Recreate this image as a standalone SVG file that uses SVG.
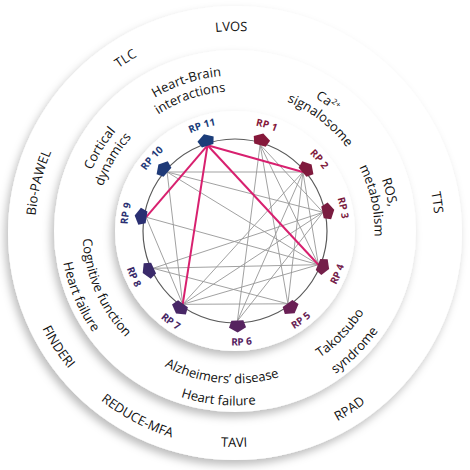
<svg xmlns="http://www.w3.org/2000/svg" width="470" height="470" viewBox="0 0 470 470">
<style>
.t{font-family:"Open Sans","DejaVu Sans",sans-serif;font-size:13px;fill:#111}
.rp{font-family:"Open Sans","DejaVu Sans",sans-serif;font-size:10px;font-weight:bold}
.g{stroke:#969696;stroke-width:0.9;fill:none}
.m{stroke:#d8206f;stroke-width:2;fill:none}
</style>
<defs>
<filter id="sh" x="-15%" y="-15%" width="130%" height="130%">
<feDropShadow dx="-3" dy="5" stdDeviation="4.5" flood-color="#000" flood-opacity="0.26"/>
</filter>
<path id="cwO" d="M235,431 A200,200 0 1 1 235,31 A200,200 0 1 1 235,431"/>
<path id="ccwO" d="M235,15 A216,216 0 1 0 235,447 A216,216 0 1 0 235,15"/>
<path id="cwM1" d="M235,386.5 A155.5,155.5 0 1 1 235,75.5 A155.5,155.5 0 1 1 235,386.5"/>
<path id="cwM2" d="M235,370.5 A139.5,139.5 0 1 1 235,91.5 A139.5,139.5 0 1 1 235,370.5"/>
<path id="ccwM1" d="M235,78.5 A152.5,152.5 0 1 0 235,383.5 A152.5,152.5 0 1 0 235,78.5"/>
<path id="ccwM2" d="M235,56.5 A174.5,174.5 0 1 0 235,405.5 A174.5,174.5 0 1 0 235,56.5"/>
<path id="cwR" d="M235,338.5 A107.5,107.5 0 1 1 235,123.5 A107.5,107.5 0 1 1 235,338.5"/>
<path id="ccwR" d="M235,116.5 A114.5,114.5 0 1 0 235,345.5 A114.5,114.5 0 1 0 235,116.5"/>
<polygon id="pent" points="0,-6.5 8.5,-1.5 6,5.5 -6,5.5 -8.5,-1.5"/>
</defs>
<rect width="470" height="470" fill="#fff"/>
<g id="rings">
<circle cx="235" cy="233" r="227" fill="#fff" filter="url(#sh)"/>
<circle cx="235" cy="231" r="181" fill="#fff" filter="url(#sh)"/>
<circle cx="235" cy="231" r="120" fill="#fff" filter="url(#sh)"/>
</g>
<g id="outer-labels" class="t">
<text><textPath href="#cwO" startOffset="624.5" text-anchor="middle">LVOS</textPath></text>
<text><textPath href="#cwO" startOffset="514.9" text-anchor="middle">TLC</textPath></text>
<text><textPath href="#cwO" startOffset="362.3" text-anchor="middle">Bio-PAWEL</textPath></text>
<text><textPath href="#cwO" startOffset="914.2" text-anchor="middle">TTS</textPath></text>
<text><textPath href="#ccwO" startOffset="464.4" text-anchor="middle">FINDERI</textPath></text>
<text><textPath href="#ccwO" startOffset="573.8" text-anchor="middle">REDUCE-MFA</textPath></text>
<text><textPath href="#ccwO" startOffset="677.5" text-anchor="middle">TAVI</textPath></text>
<text><textPath href="#ccwO" startOffset="801.9" text-anchor="middle">RPAD</textPath></text>
</g>
<g id="middle-labels" class="t">
<text><textPath href="#cwM1" startOffset="439.4" text-anchor="middle">Heart-Brain</textPath></text>
<text><textPath href="#cwM2" startOffset="392.7" text-anchor="middle">interactions</textPath></text>
<text><textPath href="#cwM1" startOffset="329.5" text-anchor="middle">Cortical</textPath></text>
<text><textPath href="#cwM2" startOffset="293.1" text-anchor="middle">dynamics</textPath></text>
<text><textPath href="#cwM1" startOffset="584.9" text-anchor="middle">Ca<tspan font-size="8" dy="-5">2+</tspan></textPath></text>
<text><textPath href="#cwM2" startOffset="529.6" text-anchor="middle">signalosome</textPath></text>
<text><textPath href="#cwM1" startOffset="694.2" text-anchor="middle">ROS,</textPath></text>
<text><textPath href="#cwM2" startOffset="626.7" text-anchor="middle">metabolism</textPath></text>
<text><textPath href="#ccwM1" startOffset="302.1" text-anchor="middle">Cognitive function</textPath></text>
<text><textPath href="#ccwM2" startOffset="344.2" text-anchor="middle">Heart failure</textPath></text>
<text><textPath href="#ccwM1" startOffset="464.7" text-anchor="middle">Alzheimers’ disease</textPath></text>
<text><textPath href="#ccwM2" startOffset="530.9" text-anchor="middle">Heart failure</textPath></text>
<text><textPath href="#ccwM1" startOffset="601.0" text-anchor="middle">Takotsubo</textPath></text>
<text><textPath href="#ccwM2" startOffset="685.2" text-anchor="middle">syndrome</textPath></text>
</g>
<circle id="ring-circle" cx="235" cy="231" r="92" fill="none" stroke="#5a5a5a" stroke-width="1.2"/>
<g id="connectors">
<line class="g" x1="167.1" y1="172" x2="302.9" y2="172"/>
<line class="g" x1="167.1" y1="172" x2="323" y2="212.3"/>
<line class="g" x1="167.1" y1="172" x2="318.4" y2="264.7"/>
<line class="g" x1="167.1" y1="172" x2="182.7" y2="304.3"/>
<line class="g" x1="146.1" y1="217.2" x2="318.4" y2="264.7"/>
<line class="g" x1="146.1" y1="217.2" x2="182.7" y2="304.3"/>
<line class="g" x1="153.1" y1="268.3" x2="318.4" y2="264.7"/>
<line class="g" x1="153.1" y1="268.3" x2="323" y2="212.3"/>
<line class="g" x1="153.1" y1="268.3" x2="287.9" y2="303.8"/>
<line class="g" x1="182.7" y1="304.3" x2="302.9" y2="172"/>
<line class="g" x1="182.7" y1="304.3" x2="323" y2="212.3"/>
<line class="g" x1="182.7" y1="304.3" x2="318.4" y2="264.7"/>
<line class="g" x1="182.7" y1="304.3" x2="287.9" y2="303.8"/>
<line class="g" x1="237.4" y1="321" x2="302.9" y2="172"/>
<line class="g" x1="237.4" y1="321" x2="323" y2="212.3"/>
<line class="g" x1="237.4" y1="321" x2="260.1" y2="144.6"/>
<line class="g" x1="287.9" y1="303.8" x2="260.1" y2="144.6"/>
<line class="g" x1="287.9" y1="303.8" x2="302.9" y2="172"/>
<line class="g" x1="318.4" y1="264.7" x2="260.1" y2="144.6"/>
<line class="g" x1="318.4" y1="264.7" x2="302.9" y2="172"/>
<line class="g" x1="323" y1="212.3" x2="260.1" y2="144.6"/>
<line class="m" x1="207.5" y1="145.3" x2="302.9" y2="172"/>
<line class="m" x1="207.5" y1="145.3" x2="318.4" y2="264.7"/>
<line class="m" x1="207.5" y1="145.3" x2="182.7" y2="304.3"/>
<line class="m" x1="207.5" y1="145.3" x2="146.1" y2="217.2"/>
</g>
<g id="RP1"><use href="#pent" fill="#85183a" transform="translate(261.5,139.8) rotate(16.2)"/><text class="rp" fill="#85183a"><textPath href="#cwR" startOffset="368.7" text-anchor="middle">RP 1</textPath></text></g>
<g id="RP2"><use href="#pent" fill="#7f1a3d" transform="translate(306.7,168.7) rotate(49)"/><text class="rp" fill="#7f1a3d"><textPath href="#cwR" startOffset="430.2" text-anchor="middle">RP 2</textPath></text></g>
<g id="RP3"><use href="#pent" fill="#7a1c40" transform="translate(327.9,211.2) rotate(78)"/><text class="rp" fill="#7a1c40"><textPath href="#cwR" startOffset="483.5" text-anchor="middle">RP 3</textPath></text></g>
<g id="RP4"><use href="#pent" fill="#74204a" transform="translate(323.1,266.6) rotate(112)"/><text class="rp" fill="#74204a"><textPath href="#ccwR" startOffset="493.4" text-anchor="middle">RP 4</textPath></text></g>
<g id="RP5"><use href="#pent" fill="#6a1f55" transform="translate(290.8,307.9) rotate(144)"/><text class="rp" fill="#6a1f55"><textPath href="#ccwR" startOffset="431.9" text-anchor="middle">RP 5</textPath></text></g>
<g id="RP6"><use href="#pent" fill="#56235f" transform="translate(237.5,326) rotate(178.5)"/><text class="rp" fill="#56235f"><textPath href="#ccwR" startOffset="366.1" text-anchor="middle">RP 6</textPath></text></g>
<g id="RP7"><use href="#pent" fill="#472766" transform="translate(179.8,308.3) rotate(215.5)"/><text class="rp" fill="#472766"><textPath href="#ccwR" startOffset="288.8" text-anchor="middle">RP 7</textPath></text></g>
<g id="RP8"><use href="#pent" fill="#3a2a6a" transform="translate(148.6,270.4) rotate(245.5)"/><text class="rp" fill="#3a2a6a"><textPath href="#ccwR" startOffset="228.4" text-anchor="middle">RP 8</textPath></text></g>
<g id="RP9"><use href="#pent" fill="#2a2f72" transform="translate(141.1,216.5) rotate(278.8)"/><text class="rp" fill="#2a2f72"><textPath href="#cwR" startOffset="185.9" text-anchor="middle">RP 9</textPath></text></g>
<g id="RP10"><use href="#pent" fill="#1f3a78" transform="translate(163.3,168.7) rotate(311)"/><text class="rp" fill="#1f3a78"><textPath href="#cwR" startOffset="246" text-anchor="middle">RP 10</textPath></text></g>
<g id="RP11"><use href="#pent" fill="#1b3d7a" transform="translate(206,140.5) rotate(342.2)"/><text class="rp" fill="#1b3d7a"><textPath href="#cwR" startOffset="304.7" text-anchor="middle">RP 11</textPath></text></g>
</svg>
